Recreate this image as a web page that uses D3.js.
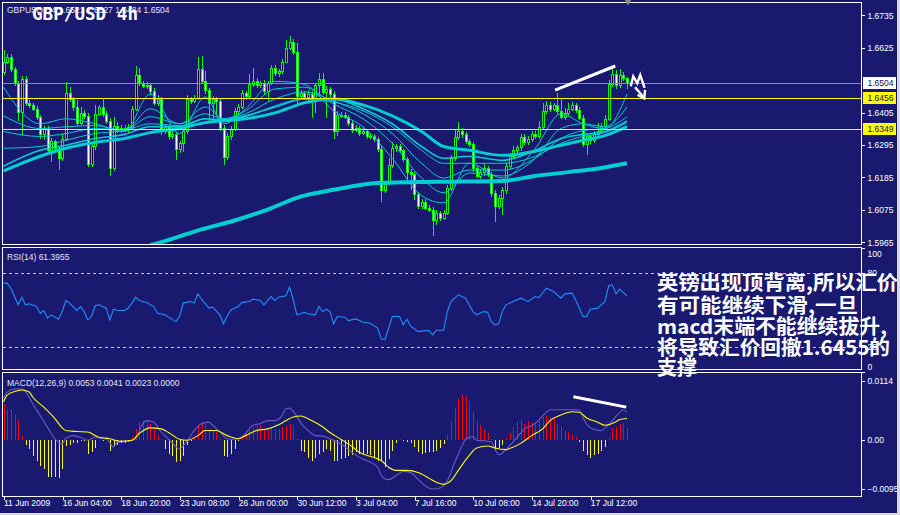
<!DOCTYPE html>
<html>
<head>
<meta charset="utf-8">
<script src="https://cdn.jsdelivr.net/npm/d3@7"></script>
<style>
  html, body { margin: 0; padding: 0; background: #191970; }
  svg { display: block; }
</style>
</head>
<body>
<svg id="chart" width="900" height="515"></svg>
<script>
// ---------- GBPUSD H4 candles (close of each bar; open = previous close) ----------
const firstOpen = 1.6542;
const closes = [
  1.6578,1.6595,1.6552,1.6505,1.6408,1.6518,1.6438,1.6431,1.6418,1.6391,
  1.6331,1.6351,1.6277,1.6307,1.6284,1.6250,1.6317,1.6471,1.6451,1.6424,
  1.6371,1.6404,1.6394,1.6230,1.6290,1.6401,1.6424,1.6401,1.6377,1.6217,
  1.6361,1.6347,1.6354,1.6347,1.6357,1.6418,1.6532,1.6505,1.6495,1.6498,
  1.6478,1.6438,1.6451,1.6344,1.6357,1.6324,1.6331,1.6280,1.6301,1.6341,
  1.6451,1.6444,1.6455,1.6552,1.6511,1.6481,1.6438,1.6451,1.6444,1.6354,
  1.6253,1.6324,1.6351,1.6411,1.6424,1.6471,1.6461,1.6501,1.6511,1.6498,
  1.6505,1.6478,1.6505,1.6555,1.6538,1.6545,1.6578,1.6625,1.6646,1.6612,
  1.6461,1.6471,1.6458,1.6468,1.6455,1.6498,1.6518,1.6475,1.6485,1.6468,
  1.6341,1.6398,1.6398,1.6391,1.6371,1.6347,1.6354,1.6337,1.6344,1.6327,
  1.6327,1.6314,1.6280,1.6143,1.6166,1.6227,1.6284,1.6290,1.6277,1.6247,
  1.6203,1.6196,1.6130,1.6089,1.6103,1.6083,1.6076,1.6042,1.6063,1.6049,
  1.6066,1.6150,1.6250,1.6321,1.6344,1.6331,1.6307,1.6297,1.6217,1.6190,
  1.6203,1.6217,1.6196,1.6133,1.6089,1.6116,1.6143,1.6223,1.6257,1.6277,
  1.6287,1.6321,1.6304,1.6317,1.6331,1.6324,1.6357,1.6411,1.6431,1.6418,
  1.6431,1.6411,1.6391,1.6404,1.6418,1.6431,1.6414,1.6388,1.6297,1.6324,
  1.6311,1.6331,1.6344,1.6361,1.6384,1.6501,1.6535,1.6498,1.6532,1.6521,
  1.6504
];
// upper / lower shadow length of each bar, in pips
const wickUp = [
  40,8,10,6,8,12,10,8,6,8,
  6,10,8,12,6,8,14,37,20,8,
  25,20,10,8,10,30,8,30,8,10,
  30,12,10,8,10,8,30,25,8,10,
  8,10,12,8,10,6,10,8,6,10,
  12,8,10,40,45,35,8,10,8,6,
  8,12,8,10,10,12,8,35,45,10,
  8,10,8,12,10,8,10,25,20,10,
  30,10,8,12,10,8,20,20,10,8,
  10,12,8,10,6,8,10,6,8,6,
  8,6,8,10,8,25,20,10,8,6,
  8,10,8,6,10,8,10,8,10,8,
  10,8,12,25,30,10,8,10,8,6,
  10,12,8,6,8,10,8,12,10,15,
  8,12,10,8,10,12,20,25,12,10,
  8,40,45,15,20,10,8,10,8,10,
  8,10,25,10,12,15,25,15,22,10,
  6
];
const wickDn = [
  10,8,8,10,33,80,12,10,8,12,
  15,20,10,40,12,40,10,8,10,12,
  10,8,10,8,10,12,8,10,12,28,
  10,12,10,8,10,8,6,10,8,10,
  12,8,10,15,10,12,10,35,12,30,
  8,10,8,6,10,12,60,55,50,10,
  25,10,12,8,10,8,12,10,8,10,
  8,12,35,8,10,12,8,6,8,10,
  33,10,12,15,70,50,40,10,90,12,
  25,17,10,8,10,12,8,10,8,12,
  10,8,10,42,10,8,10,12,8,10,
  25,55,20,10,12,10,8,55,20,12,
  10,8,10,8,10,12,8,10,12,8,
  10,12,8,15,55,10,60,15,10,8,
  10,12,8,10,12,8,10,8,10,12,
  8,10,8,10,12,8,10,8,8,35,
  12,10,8,10,8,6,10,12,8,10,
  20
];

// ---------- moving-average ribbon (values at selected bars) ----------
const maBars = [0,10,17,25,33,40,48,55,60,66,74,82,90,98,106,114,120,127,136,145,152,158,164,170];
const ema1 = [1.6491,1.6367,1.6384,1.6367,1.6341,1.6468,1.6334,1.6458,1.6367,1.6418,1.6511,1.6501,1.6411,1.6357,1.6250,1.6123,1.6099,1.6233,1.6183,1.6284,1.6401,1.6367,1.6351,1.6468];
const ema2 = [1.6394,1.6351,1.6357,1.6361,1.6344,1.6418,1.6367,1.6424,1.6384,1.6411,1.6485,1.6491,1.6434,1.6384,1.6301,1.6183,1.6133,1.6200,1.6190,1.6250,1.6351,1.6367,1.6357,1.6424];
const ema3 = [1.6341,1.6324,1.6334,1.6351,1.6347,1.6391,1.6367,1.6401,1.6384,1.6401,1.6451,1.6475,1.6444,1.6401,1.6334,1.6233,1.6183,1.6210,1.6210,1.6250,1.6317,1.6344,1.6351,1.6391];
const ema4 = [1.6284,1.6290,1.6311,1.6334,1.6344,1.6367,1.6361,1.6384,1.6377,1.6391,1.6428,1.6451,1.6441,1.6411,1.6357,1.6277,1.6233,1.6233,1.6233,1.6257,1.6301,1.6324,1.6337,1.6371];
const ma34 = [1.6223,1.6277,1.6294,1.6317,1.6331,1.6357,1.6357,1.6384,1.6381,1.6394,1.6424,1.6451,1.6451,1.6418,1.6367,1.6290,1.6250,1.6257,1.6243,1.6277,1.6317,1.6331,1.6341,1.6377];
const ma55 = [1.6207,1.6257,1.6284,1.6304,1.6317,1.6337,1.6351,1.6371,1.6377,1.6384,1.6404,1.6438,1.6451,1.6431,1.6394,1.6341,1.6290,1.6277,1.6260,1.6274,1.6294,1.6311,1.6327,1.6357];
const ma200Bars = [40,44,54,63,72,81,90,102,118,136,145,154,163,170];
const ma200 = [1.5955,1.5969,1.6009,1.6039,1.6076,1.6120,1.6143,1.6166,1.6170,1.6173,1.6190,1.6203,1.6217,1.6233];

// ---------- horizontal levels and price axis ----------
const supportLevels = [1.6456, 1.6349];
const lastPrice = 1.6504;
const priceTicks = [1.5965, 1.6075, 1.6185, 1.6295, 1.6405, 1.6625, 1.6735];

// ---------- RSI(14) ----------
const rsiBars = [0,1,2,3,4,5,6,7,9,10,11,12,13,15,16,17,18,20,21,22,23,24,25,26,28,29,30,31,33,34,35,36,37,39,41,42,44,45,47,48,49,51,52,53,54,56,57,59,60,61,62,64,65,67,68,70,71,73,74,75,77,78,79,80,81,82,83,85,86,87,88,89,90,91,93,94,96,97,98,100,102,103,104,106,108,109,110,111,113,115,116,117,118,120,121,122,124,126,128,129,131,132,133,134,135,136,137,139,141,143,145,146,148,150,152,153,155,156,158,159,160,162,164,165,166,167,168,170];
const rsiVals = [71.8,71.8,67.7,60.9,54.2,60.4,54.2,55.0,52.8,47.4,49.6,43.4,46.1,42.6,48.7,57.7,55.6,49.6,52.8,48.7,42.0,44.7,53.4,54.2,51.5,42.0,50.7,49.6,49.6,51.5,55.6,60.4,57.7,56.0,52.8,47.4,46.1,44.2,40.6,44.7,55.6,56.9,55.6,63.1,58.8,51.5,52.3,46.1,38.8,45.3,50.1,52.8,56.0,56.9,58.8,57.7,54.2,60.9,57.7,60.4,61.5,68.5,58.2,46.1,46.9,48.2,46.9,46.1,52.8,48.7,50.6,48.7,38.8,44.7,44.2,41.4,42.8,41.4,40.1,39.3,35.3,26.4,25.9,44.7,44.7,38.0,42.5,37.1,32.5,33.3,33.3,29.8,33.6,33.6,48.7,56.9,62.3,59.6,48.7,46.1,48.7,48.2,40.6,38.0,38.8,48.7,54.2,56.9,59.6,56.9,60.9,60.0,67.7,65.0,59.6,63.1,63.7,58.2,44.7,44.7,50.7,51.5,56.9,69.6,70.4,63.1,66.9,61.3955];
const rsiLevels = [80, 20];
const rsiTicks = [100, 80, 20, 0];

// ---------- MACD(12,26,9) ----------
const macdBars = [0,1,3,5,7,8,10,12,14,16,17,19,21,23,25,27,28,30,31,34,36,38,39,41,43,45,46,48,50,52,54,56,57,59,61,63,65,67,68,70,72,74,76,77,78,79,80,81,83,85,87,89,91,93,95,97,99,102,103,105,107,109,111,113,115,117,119,121,123,124,125,126,128,129,131,133,135,137,138,140,142,144,146,148,149,151,153,156,157,158,159,161,163,164,166,168,169,170];
const macdMain = [0.0080,0.0092,0.0098,0.0098,0.0082,0.0069,0.0047,0.0024,0.0002,-0.0008,0.0003,0.0008,0.0005,-0.0001,0.0005,0.0002,0.0002,-0.0014,-0.0005,-0.0003,0.0002,0.0031,0.0037,0.0034,0.0015,0.0001,-0.0006,-0.0017,-0.0003,0.0018,0.0031,0.0034,0.0028,0.0015,0.0002,0.0001,0.0005,0.0021,0.0028,0.0031,0.0037,0.0037,0.0047,0.0060,0.0061,0.0055,0.0045,0.0033,0.0018,0.0008,0.0007,0.0002,-0.0004,-0.0013,-0.0024,-0.0034,-0.0040,-0.0053,-0.0069,-0.0077,-0.0069,-0.0061,-0.0063,-0.0076,-0.0089,-0.0095,-0.0093,-0.0079,-0.0044,-0.0028,-0.0012,0.0001,0.0006,-0.0001,-0.0002,-0.0004,-0.0029,-0.0019,-0.0011,0.0004,0.0021,0.0027,0.0038,0.0053,0.0058,0.0058,0.0058,0.0058,0.0057,0.0043,0.0030,0.0020,0.0018,0.0023,0.0037,0.0053,0.0058,0.0053];
const sigBars = [0,1,3,5,7,8,11,14,16,17,20,23,25,26,29,32,35,37,40,43,45,48,50,53,55,58,61,64,66,69,72,75,77,79,81,84,87,89,92,95,97,100,103,105,107,110,113,116,118,120,122,124,127,129,132,134,137,138,141,144,147,149,152,155,157,159,162,164,167,168,170];
const macdSignal = [0.0073,0.0086,0.0093,0.0096,0.0092,0.0082,0.0063,0.0041,0.0023,0.0018,0.0016,0.0015,0.0008,0.0005,0.0002,-0.0003,-0.0001,0.0012,0.0023,0.0021,0.0014,0.0001,-0.0001,0.0008,0.0018,0.0018,0.0008,0.0002,0.0008,0.0018,0.0021,0.0029,0.0037,0.0044,0.0046,0.0037,0.0025,0.0014,0.0001,-0.0013,-0.0024,-0.0032,-0.0040,-0.0053,-0.0059,-0.0059,-0.0063,-0.0074,-0.0082,-0.0086,-0.0079,-0.0059,-0.0030,-0.0016,-0.0012,-0.0016,-0.0019,-0.0017,-0.0007,0.0008,0.0021,0.0037,0.0048,0.0054,0.0053,0.0042,0.0034,0.0028,0.0035,0.0039,0.0041];
const macdHist = [
  0.0069,0.0057,0.0058,0.0047,0.0039,0.0007,-0.0010,-0.0017,-0.0032,-0.0040,
  -0.0050,-0.0056,-0.0072,-0.0072,-0.0072,-0.0074,-0.0056,-0.0012,-0.0010,-0.0006,
  -0.0006,-0.0003,-0.0003,-0.0027,-0.0024,-0.0016,-0.0001,-0.0003,-0.0001,-0.0021,
  -0.0012,-0.0010,-0.0006,-0.0006,-0.0005,0.0005,0.0020,0.0035,0.0037,0.0039,
  0.0031,0.0024,0.0010,0.0001,-0.0017,-0.0027,-0.0032,-0.0042,-0.0040,-0.0032,
  -0.0011,-0.0003,0.0005,0.0028,0.0035,0.0031,0.0021,0.0018,0.0015,0.0002,
  -0.0032,-0.0033,-0.0027,-0.0017,-0.0003,0.0005,0.0012,0.0018,0.0024,0.0026,
  0.0029,0.0020,0.0018,0.0023,0.0021,0.0021,0.0024,0.0026,0.0031,0.0029,
  0.0001,-0.0021,-0.0024,-0.0035,-0.0040,-0.0035,-0.0027,-0.0024,-0.0017,-0.0021,
  -0.0040,-0.0040,-0.0037,-0.0035,-0.0032,-0.0029,-0.0024,-0.0027,-0.0027,-0.0028,
  -0.0030,-0.0035,-0.0040,-0.0040,-0.0053,-0.0037,-0.0021,-0.0006,0.0001,-0.0003,
  -0.0004,-0.0006,-0.0014,-0.0024,-0.0027,-0.0026,-0.0024,-0.0024,-0.0021,-0.0015,
  -0.0008,0.0010,0.0037,0.0061,0.0079,0.0087,0.0085,0.0075,0.0053,0.0037,
  0.0028,0.0021,0.0014,0.0002,-0.0021,-0.0015,-0.0011,0.0003,0.0014,0.0024,
  0.0034,0.0038,0.0031,0.0037,0.0032,0.0034,0.0037,0.0043,0.0046,0.0043,
  0.0040,0.0031,0.0024,0.0017,0.0015,0.0010,0.0005,-0.0004,-0.0021,-0.0030,
  -0.0035,-0.0030,-0.0027,-0.0021,-0.0013,0.0006,0.0023,0.0024,0.0031,0.0032,
  0.0023
];
const macdTicks = [0.0114, 0, -0.0095];

// ---------- time axis ----------
const dateTicks = [0, 16, 32, 48, 64, 80, 96, 112, 128, 144, 160];
const dateLabels = ["11 Jun 2009", "16 Jun 04:00", "18 Jun 20:00", "23 Jun 08:00", "26 Jun 00:00",
  "30 Jun 12:00", "3 Jul 04:00", "7 Jul 16:00", "10 Jul 08:00", "14 Jul 20:00", "17 Jul 12:00"];

// ---------- hand-drawn divergence marks ([bar, value] pairs) ----------
const priceDivergence = [[150.4, 1.6481], [166.8, 1.6563]];
const macdDivergence = [[155.4, 0.0083], [169.8, 0.0063]];
const arrowZigzag = [[171.1, 1.6498], [171.7, 1.6528], [172.8, 1.6505], [173.6, 1.6532], [174.7, 1.6493]];
const arrowShaft = [[172.4, 1.6488], [174.6, 1.6456]];
const arrowHead = [[173.2, 1.6463], [174.7, 1.6453], [174.9, 1.6478]];

// ---------- commentary ----------
const noteLines = ["英镑出现顶背离,所以汇价", "有可能继续下滑,一旦", "macd末端不能继续拔升,", "将导致汇价回撤1.6455的", "支撑"];
const headline = "GBP/USD 4h";
const symbolLine = "GBPUSD,H4 1.6521 1.6527 1.6484 1.6504";

// =====================================================================
const svg = d3.select("#chart");
const BG = "#191970";
const FG = "#ffffff";
const LABEL_FONT = "'Liberation Sans', Arial, sans-serif";

svg.append("rect").attr("width", 900).attr("height", 515).attr("fill", BG);

const L = 2.5, R = 861.5;
const P = {
  main: { top: 2.5, bottom: 244.5 },
  rsi:  { top: 247.5, bottom: 369.5 },
  macd: { top: 372.5, bottom: 496.5 }
};

const x = d3.scaleLinear().domain([0, 170]).range([3.5, 627]);
const y = d3.scaleLinear().domain([1.5965, 1.6735]).range([242.3, 15.3]);
const rsiY = d3.scaleLinear().domain([0, 100]).range([371.7, 248.3]);
const macdY = d3.scaleLinear().domain([-0.0095, 0.0114]).range([489, 380.7]);
const px = i => Math.round(x(i));

const defs = svg.append("defs");
Object.entries(P).forEach(([k, p]) => {
  defs.append("clipPath").attr("id", "clip-" + k)
    .append("rect").attr("x", L + 0.5).attr("y", p.top + 0.5)
    .attr("width", R - L - 1).attr("height", p.bottom - p.top - 1);
});

// ---------------- price panel ----------------
const gMain = svg.append("g").attr("clip-path", "url(#clip-main)");

const candles = closes.map((c, i) => {
  const o = i ? closes[i - 1] : firstOpen;
  return { i, o, c, h: Math.max(o, c) + wickUp[i] * 1e-4, l: Math.min(o, c) - wickDn[i] * 1e-4 };
});

gMain.append("g").selectAll("line").data(candles).join("line")
  .attr("x1", d => px(d.i) + 0.5).attr("x2", d => px(d.i) + 0.5)
  .attr("y1", d => Math.round(y(d.h))).attr("y2", d => Math.round(y(d.l)))
  .attr("stroke", "#00ff00").attr("stroke-width", 1).attr("shape-rendering", "crispEdges");

gMain.append("g").selectAll("rect").data(candles).join("rect")
  .attr("x", d => px(d.i) - 0.5).attr("width", 2)
  .attr("y", d => Math.round(y(Math.max(d.o, d.c))) + 0.5)
  .attr("height", d => Math.max(1, Math.round(y(Math.min(d.o, d.c))) - Math.round(y(Math.max(d.o, d.c)))))
  .attr("fill", d => d.c >= d.o ? "#000000" : "#ffffff")
  .attr("stroke", "#00ff00").attr("stroke-width", 1).attr("shape-rendering", "crispEdges");

const maLine = d3.line().x(d => x(d[0])).y(d => y(d[1])).curve(d3.curveMonotoneX);
const ribbon = [
  { v: ema1, w: 1 }, { v: ema2, w: 1 }, { v: ema3, w: 1 }, { v: ema4, w: 1 },
  { v: ma34, w: 1.6 }, { v: ma55, w: 3 }
];
ribbon.forEach(r => {
  gMain.append("path").datum(maBars.map((b, k) => [b, r.v[k]]))
    .attr("d", maLine).attr("fill", "none").attr("stroke", "#00ced1").attr("stroke-width", r.w);
});
gMain.append("path").datum(ma200Bars.map((b, k) => [b, ma200[k]]))
  .attr("d", maLine).attr("fill", "none").attr("stroke", "#00ced1").attr("stroke-width", 4);

// support lines and last price
gMain.selectAll("line.lvl").data(supportLevels).join("line").attr("class", "lvl")
  .attr("x1", L).attr("x2", R)
  .attr("y1", d => Math.round(y(d)) + 0.5).attr("y2", d => Math.round(y(d)) + 0.5)
  .attr("stroke", "#ffff00").attr("shape-rendering", "crispEdges");
gMain.append("line").attr("x1", L).attr("x2", R)
  .attr("y1", Math.round(y(lastPrice)) + 0.5).attr("y2", Math.round(y(lastPrice)) + 0.5)
  .attr("stroke", "#8a8fa0").attr("shape-rendering", "crispEdges");

// divergence trend line and arrow
const pLine = d3.line().x(d => x(d[0])).y(d => y(d[1]));
svg.append("path").datum(priceDivergence).attr("d", pLine)
  .attr("stroke", FG).attr("stroke-width", 3).attr("fill", "none");
[arrowZigzag, arrowShaft, arrowHead].forEach(seg => {
  svg.append("path").datum(seg).attr("d", pLine)
    .attr("stroke", FG).attr("stroke-width", 2.4).attr("fill", "none")
    .attr("stroke-linejoin", "miter").attr("stroke-linecap", "square");
});

// ---------------- RSI panel ----------------
const gRsi = svg.append("g").attr("clip-path", "url(#clip-rsi)");
gRsi.selectAll("line").data(rsiLevels).join("line")
  .attr("x1", L).attr("x2", R)
  .attr("y1", d => Math.round(rsiY(d)) + 0.5).attr("y2", d => Math.round(rsiY(d)) + 0.5)
  .attr("stroke", "#c8c8c8").attr("stroke-dasharray", "3,3").attr("shape-rendering", "crispEdges");
gRsi.append("path").datum(rsiBars.map((b, k) => [b, rsiVals[k]]))
  .attr("d", d3.line().x(d => x(d[0])).y(d => rsiY(d[1])))
  .attr("fill", "none").attr("stroke", "#1e90ff").attr("stroke-width", 1.1);

// ---------------- MACD panel ----------------
const gMacd = svg.append("g").attr("clip-path", "url(#clip-macd)");
const zeroY = Math.round(macdY(0));
gMacd.selectAll("line").data(macdHist.map((v, i) => ({ i, v }))).join("line")
  .attr("x1", d => px(d.i) + 0.5).attr("x2", d => px(d.i) + 0.5)
  .attr("y1", zeroY).attr("y2", d => Math.round(macdY(d.v)))
  .attr("stroke", d => d.v >= 0 ? "#ff0000" : "#ffff00")
  .attr("shape-rendering", "crispEdges");
const mLine = d3.line().x(d => x(d[0])).y(d => macdY(d[1])).curve(d3.curveMonotoneX);
gMacd.append("path").datum(macdBars.map((b, k) => [b, macdMain[k]]))
  .attr("d", mLine).attr("fill", "none").attr("stroke", "#6a5acd").attr("stroke-width", 1.1);
gMacd.append("path").datum(sigBars.map((b, k) => [b, macdSignal[k]]))
  .attr("d", mLine).attr("fill", "none").attr("stroke", "#ffff00").attr("stroke-width", 1.1);
svg.append("path").datum(macdDivergence)
  .attr("d", d3.line().x(d => x(d[0])).y(d => macdY(d[1])))
  .attr("stroke", FG).attr("stroke-width", 3).attr("fill", "none");

// ---------------- frames ----------------
Object.values(P).forEach(p => {
  svg.append("rect").attr("x", L).attr("y", p.top).attr("width", R - L).attr("height", p.bottom - p.top)
    .attr("fill", "none").attr("stroke", FG).attr("shape-rendering", "crispEdges");
});

// ---------------- axes ----------------
function styleAxis(g) {
  g.select(".domain").remove();
  g.selectAll(".tick line").attr("stroke", FG).attr("shape-rendering", "crispEdges");
  g.selectAll(".tick text").attr("fill", FG).style("font-family", LABEL_FONT).style("font-size", "8.5px");
}

svg.append("g").attr("transform", `translate(${R},0)`)
  .call(d3.axisRight(y).tickValues(priceTicks).tickSize(3).tickPadding(3).tickFormat(d3.format(".4f")))
  .call(styleAxis);

const rsiAxis = svg.append("g").attr("transform", `translate(${R},0)`)
  .call(d3.axisRight(rsiY).tickValues(rsiTicks).tickSize(3).tickPadding(3).tickFormat(d3.format("d")))
  .call(styleAxis);
rsiAxis.selectAll(".tick text").attr("dy", d => d === 100 ? "0.95em" : d === 0 ? "-0.3em" : "0.32em");

const macdFmt = d => d === 0 ? "0.00" : d3.format(".4f")(d);
svg.append("g").attr("transform", `translate(${R},0)`)
  .call(d3.axisRight(macdY).tickValues(macdTicks).tickSize(3).tickPadding(3).tickFormat(macdFmt))
  .call(styleAxis);

const xAxis = svg.append("g").attr("transform", `translate(0,${P.macd.bottom})`)
  .call(d3.axisBottom(x).tickValues(dateTicks).tickSize(3).tickFormat((d, k) => dateLabels[k]))
  .call(styleAxis);
xAxis.selectAll(".tick line").attr("transform", "translate(0.5,0)");
xAxis.selectAll(".tick text").attr("text-anchor", "start").attr("x", 0).attr("y", 9.5).attr("dy", "0");

// price tags on the axis
const tags = [
  { v: lastPrice, fill: "#ffffff" },
  ...supportLevels.map(v => ({ v, fill: "#ffff00" }))
];
const tagG = svg.append("g").selectAll("g").data(tags).join("g")
  .attr("transform", d => `translate(${R + 1.5},${Math.round(y(d.v))})`);
tagG.append("rect").attr("x", 0).attr("y", -6).attr("width", 33).attr("height", 12)
  .attr("fill", d => d.fill).attr("shape-rendering", "crispEdges");
tagG.append("text").attr("x", 4.5).attr("y", 0).attr("dy", "0.34em")
  .attr("fill", "#101050").style("font-family", LABEL_FONT).style("font-size", "8.5px")
  .text(d => d3.format(".4f")(d.v));

// marker at top
svg.append("path")
  .attr("d", d3.symbol().type(d3.symbolTriangle).size(22))
  .attr("transform", `translate(${x(170) + 1},1.5) rotate(180)`)
  .attr("fill", "#8a8a8a");

// ---------------- titles ----------------
svg.append("text").attr("x", 7).attr("y", 13).attr("fill", "#e6e6f0")
  .style("font-family", LABEL_FONT).style("font-size", "8.5px").text(symbolLine);
svg.append("text").attr("x", 32).attr("y", 19.5).attr("fill", FG)
  .attr("textLength", 106).attr("lengthAdjust", "spacingAndGlyphs")
  .style("font-family", "'DejaVu Sans Mono', monospace").style("font-weight", "bold").style("font-size", "17px")
  .text(headline);
svg.append("text").attr("x", 7).attr("y", 260).attr("fill", "#e6e6f0")
  .style("font-family", LABEL_FONT).style("font-size", "8.5px")
  .text("RSI(14) " + d3.format(".4f")(rsiVals[rsiVals.length - 1]));
svg.append("text").attr("x", 7).attr("y", 386).attr("fill", "#e6e6f0")
  .style("font-family", LABEL_FONT).style("font-size", "8.5px")
  .text("MACD(12,26,9) " + [macdMain[macdMain.length - 1], macdSignal[macdSignal.length - 1], macdHist[macdHist.length - 1], 0]
    .map(d3.format(".4f")).join(" "));

// ---------------- commentary block ----------------
const noteLayout = [
  { cy: 283, w: 241 }, { cy: 305.5, w: 201 }, { cy: 327, w: 230 }, { cy: 348, w: 233 }, { cy: 368, w: 40 }
];
svg.append("g").selectAll("text").data(noteLines).join("text")
  .attr("x", 657).attr("y", (d, k) => noteLayout[k].cy).attr("dy", "0.36em")
  .attr("textLength", (d, k) => noteLayout[k].w).attr("lengthAdjust", "spacingAndGlyphs")
  .attr("fill", FG)
  .style("font-family", "'Noto Sans CJK SC', sans-serif").style("font-weight", "bold").style("font-size", "20px")
  .text(d => d);

// window edge
svg.append("rect").attr("x", 897).attr("y", 0).attr("width", 3).attr("height", 515).attr("fill", "#d8d8e0");
svg.append("rect").attr("x", 0).attr("y", 513).attr("width", 900).attr("height", 2).attr("fill", "#d8d8e0");
</script>
</body>
</html>
